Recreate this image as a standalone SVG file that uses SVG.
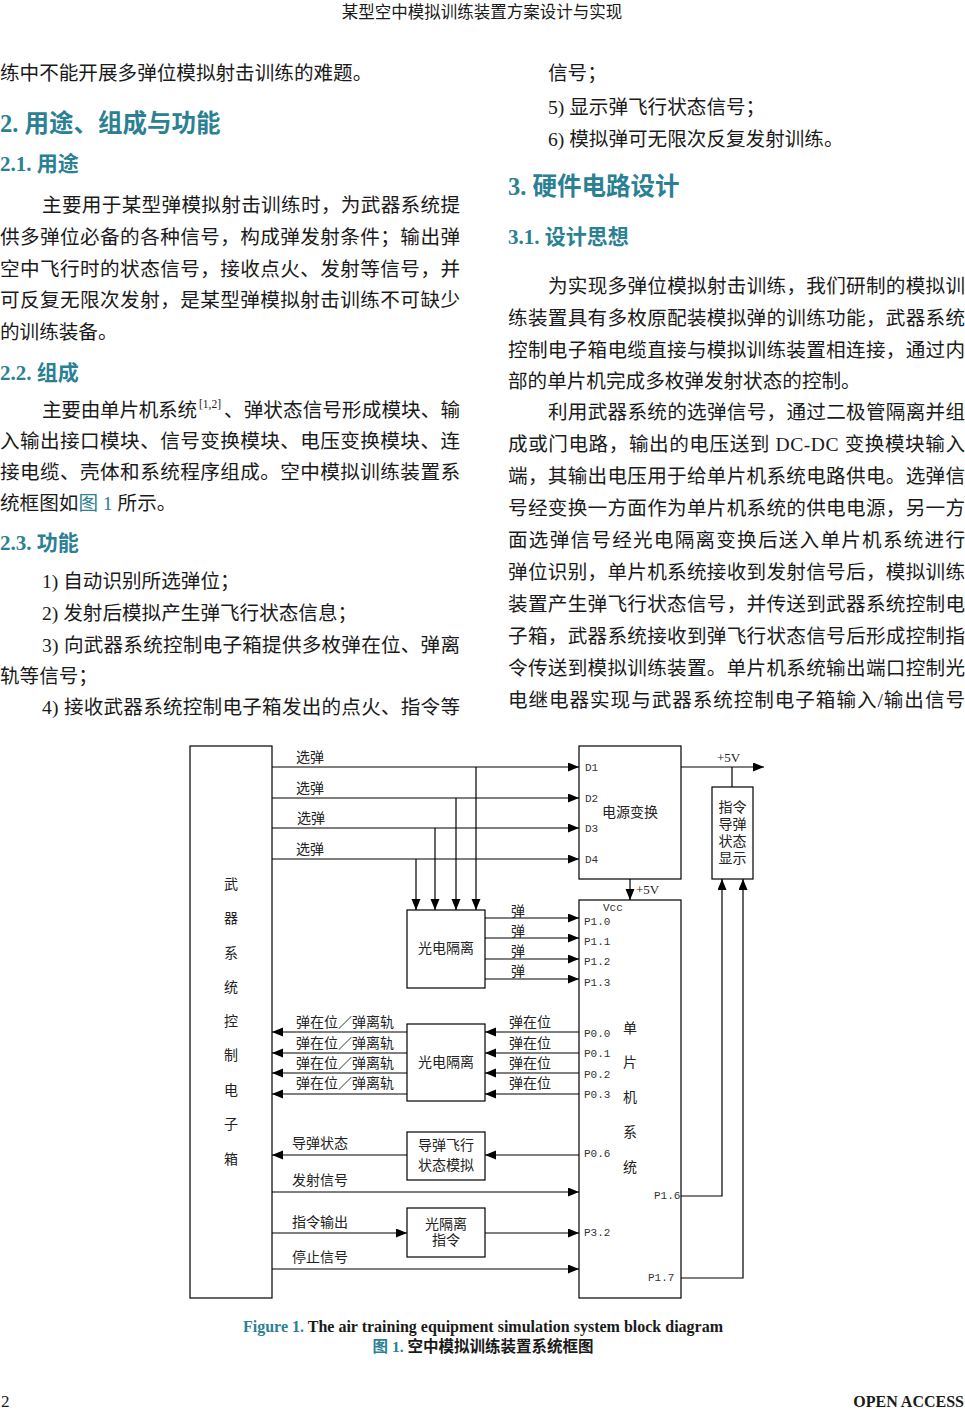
<svg xmlns="http://www.w3.org/2000/svg" width="965" height="1411" viewBox="0 0 965 1411">
<style>
.body{font-family:"Liberation Serif","Noto Sans CJK SC",serif;font-size:19.6px;fill:#1a1a1a}
.h1{font-family:"Liberation Serif","Noto Sans CJK SC",sans-serif;font-size:24.5px;font-weight:bold;fill:#2b8094}
.h2{font-family:"Liberation Serif","Noto Sans CJK SC",sans-serif;font-size:21px;font-weight:bold;fill:#2b8094}
.teal{fill:#2b8094}
.lbl{font-family:"Liberation Serif","Noto Sans CJK SC",serif;font-size:14px;fill:#222}
.port{font-family:"Liberation Mono","Noto Sans CJK SC",monospace;font-size:11px;fill:#333}
.box{fill:#fff;stroke:#000;stroke-width:1.2}
.ln{fill:none;stroke:#000;stroke-width:1.2}
.ar{marker-end:url(#arr)}
</style>
<defs>
<marker id="arr" markerUnits="userSpaceOnUse" markerWidth="12" markerHeight="10" refX="11" refY="4.5" orient="auto">
<path d="M0,0 L11,4.5 L0,9 z" fill="#000"/>
</marker>
</defs>
<rect width="965" height="1411" fill="#fff"/>

<!-- header / footer -->
<text x="482" y="18" text-anchor="middle" class="body" style="font-size:16.5px">某型空中模拟训练装置方案设计与实现</text>
<text x="1" y="1407" class="body" style="font-size:17px">2</text>
<text x="964" y="1407" text-anchor="end" class="body" style="font-size:16px;font-weight:bold">OPEN ACCESS</text>

<!-- left column -->
<g id="left-col">
<text x="0" y="80" class="body">练中不能开展多弹位模拟射击训练的难题。</text>
<text x="0" y="132" class="h1">2. 用途、组成与功能</text>
<text x="0" y="171" class="h2">2.1. 用途</text>
<text x="42" y="212" class="body" textLength="418" lengthAdjust="spacing">主要用于某型弹模拟射击训练时，为武器系统提</text>
<text x="0" y="244" class="body" textLength="460" lengthAdjust="spacing">供多弹位必备的各种信号，构成弹发射条件；输出弹</text>
<text x="0" y="276" class="body" textLength="460" lengthAdjust="spacing">空中飞行时的状态信号，接收点火、发射等信号，并</text>
<text x="0" y="307" class="body" textLength="460" lengthAdjust="spacing">可反复无限次发射，是某型弹模拟射击训练不可缺少</text>
<text x="0" y="339" class="body">的训练装备。</text>
<text x="0" y="380" class="h2">2.2. 组成</text>
<text x="42" y="417" class="body" textLength="155" lengthAdjust="spacing">主要由单片机系统</text>
<text x="199" y="408" class="body" style="font-size:11.5px">[1,2]</text>
<text x="224" y="417" class="body" textLength="236" lengthAdjust="spacing">、弹状态信号形成模块、输</text>
<text x="0" y="448" class="body" textLength="460" lengthAdjust="spacing">入输出接口模块、信号变换模块、电压变换模块、连</text>
<text x="0" y="479" class="body" textLength="460" lengthAdjust="spacing">接电缆、壳体和系统程序组成。空中模拟训练装置系</text>
<text x="0" y="510" class="body">统框图如<tspan class="teal">图 1</tspan> 所示。</text>
<text x="0" y="550" class="h2">2.3. 功能</text>
<text x="42" y="588" class="body">1)  自动识别所选弹位；</text>
<text x="42" y="620" class="body">2)  发射后模拟产生弹飞行状态信息；</text>
<text x="42" y="652" class="body" textLength="418" lengthAdjust="spacing">3)  向武器系统控制电子箱提供多枚弹在位、弹离</text>
<text x="0" y="683" class="body">轨等信号；</text>
<text x="42" y="714" class="body" textLength="418" lengthAdjust="spacing">4)  接收武器系统控制电子箱发出的点火、指令等</text>
</g>

<!-- right column -->
<g id="right-col">
<text x="548" y="80" class="body">信号；</text>
<text x="548" y="114" class="body">5)  显示弹飞行状态信号；</text>
<text x="548" y="146" class="body">6)  模拟弹可无限次反复发射训练。</text>
<text x="508" y="195" class="h1">3.  硬件电路设计</text>
<text x="508" y="244" class="h2">3.1.  设计思想</text>
<text x="548" y="293" class="body" textLength="417" lengthAdjust="spacing">为实现多弹位模拟射击训练，我们研制的模拟训</text>
<text x="508" y="325" class="body" textLength="457" lengthAdjust="spacing">练装置具有多枚原配装模拟弹的训练功能，武器系统</text>
<text x="508" y="357" class="body" textLength="457" lengthAdjust="spacing">控制电子箱电缆直接与模拟训练装置相连接，通过内</text>
<text x="508" y="388" class="body">部的单片机完成多枚弹发射状态的控制。</text>
<text x="548" y="419" class="body" textLength="417" lengthAdjust="spacing">利用武器系统的选弹信号，通过二极管隔离并组</text>
<text x="508" y="451" class="body" textLength="457" lengthAdjust="spacing">成或门电路，输出的电压送到 DC-DC 变换模块输入</text>
<text x="508" y="483" class="body" textLength="457" lengthAdjust="spacing">端，其输出电压用于给单片机系统电路供电。选弹信</text>
<text x="508" y="515" class="body" textLength="457" lengthAdjust="spacing">号经变换一方面作为单片机系统的供电电源，另一方</text>
<text x="508" y="547" class="body" textLength="457" lengthAdjust="spacing">面选弹信号经光电隔离变换后送入单片机系统进行</text>
<text x="508" y="579" class="body" textLength="457" lengthAdjust="spacing">弹位识别，单片机系统接收到发射信号后，模拟训练</text>
<text x="508" y="611" class="body" textLength="457" lengthAdjust="spacing">装置产生弹飞行状态信号，并传送到武器系统控制电</text>
<text x="508" y="643" class="body" textLength="457" lengthAdjust="spacing">子箱，武器系统接收到弹飞行状态信号后形成控制指</text>
<text x="508" y="675" class="body" textLength="457" lengthAdjust="spacing">令传送到模拟训练装置。单片机系统输出端口控制光</text>
<text x="508" y="707" class="body" textLength="457" lengthAdjust="spacing">电继电器实现与武器系统控制电子箱输入/输出信号</text>
</g>

<!-- diagram nodes -->
<g id="weapon-box">
<rect x="190" y="746" width="82" height="552" class="box"/>
<text class="lbl" text-anchor="middle" x="231" y="889">武</text>
<text class="lbl" text-anchor="middle" x="231" y="923">器</text>
<text class="lbl" text-anchor="middle" x="231" y="958">系</text>
<text class="lbl" text-anchor="middle" x="231" y="992">统</text>
<text class="lbl" text-anchor="middle" x="231" y="1026">控</text>
<text class="lbl" text-anchor="middle" x="231" y="1060">制</text>
<text class="lbl" text-anchor="middle" x="231" y="1095">电</text>
<text class="lbl" text-anchor="middle" x="231" y="1129">子</text>
<text class="lbl" text-anchor="middle" x="231" y="1164">箱</text>
</g>
<g id="power-box">
<rect x="579" y="746" width="102" height="133" class="box"/>
<text class="port" x="585" y="771">D1</text>
<text class="port" x="585" y="802">D2</text>
<text class="port" x="585" y="832">D3</text>
<text class="port" x="585" y="863">D4</text>
<text class="lbl" x="602" y="817">电源变换</text>
</g>
<g id="display-box">
<rect x="712" y="787" width="41" height="92" class="box"/>
<text class="lbl" text-anchor="middle" x="732.5" y="812">指令</text>
<text class="lbl" text-anchor="middle" x="732.5" y="829">导弹</text>
<text class="lbl" text-anchor="middle" x="732.5" y="846">状态</text>
<text class="lbl" text-anchor="middle" x="732.5" y="863">显示</text>
</g>
<g id="mcu-box">
<rect x="579" y="900" width="102" height="398" class="box"/>
<text class="port" x="603" y="911">Vcc</text>
<text class="port" x="584" y="925">P1.0</text>
<text class="port" x="584" y="945">P1.1</text>
<text class="port" x="584" y="965">P1.2</text>
<text class="port" x="584" y="986">P1.3</text>
<text class="port" x="584" y="1037">P0.0</text>
<text class="port" x="584" y="1057">P0.1</text>
<text class="port" x="584" y="1078">P0.2</text>
<text class="port" x="584" y="1098">P0.3</text>
<text class="port" x="584" y="1157">P0.6</text>
<text class="port" x="584" y="1236">P3.2</text>
<text class="port" x="654" y="1199">P1.6</text>
<text class="port" x="648" y="1281">P1.7</text>
<text class="lbl" text-anchor="middle" x="630" y="1033">单</text>
<text class="lbl" text-anchor="middle" x="630" y="1067">片</text>
<text class="lbl" text-anchor="middle" x="630" y="1102">机</text>
<text class="lbl" text-anchor="middle" x="630" y="1137">系</text>
<text class="lbl" text-anchor="middle" x="630" y="1172">统</text>
</g>
<g id="opto-in">
<rect x="407" y="910" width="78" height="78" class="box"/>
<text class="lbl" text-anchor="middle" x="446" y="953">光电隔离</text>
</g>
<g id="opto-out">
<rect x="407" y="1024" width="78" height="77" class="box"/>
<text class="lbl" text-anchor="middle" x="446" y="1067">光电隔离</text>
</g>
<g id="flight-sim">
<rect x="407" y="1132" width="78" height="48" class="box"/>
<text class="lbl" text-anchor="middle" x="446" y="1150">导弹飞行</text>
<text class="lbl" text-anchor="middle" x="446" y="1170">状态模拟</text>
</g>
<g id="opto-cmd">
<rect x="407" y="1208" width="78" height="49" class="box"/>
<text class="lbl" text-anchor="middle" x="446" y="1229">光隔离</text>
<text class="lbl" text-anchor="middle" x="446" y="1245">指令</text>
</g>

<!-- connectors -->
<g id="connectors">
<path class="ln ar" d="M272,767 H579"/>
<path class="ln ar" d="M272,798 H579"/>
<path class="ln ar" d="M272,828 H579"/>
<path class="ln ar" d="M272,859 H579"/>
<path class="ln ar" d="M476,767 V910"/>
<path class="ln ar" d="M456,798 V910"/>
<path class="ln ar" d="M435,828 V910"/>
<path class="ln ar" d="M416,859 V910"/>
<path class="ln ar" d="M681,767 H764"/>
<path class="ln" d="M732,767 V787"/>
<path class="ln ar" d="M630,879 V900"/>
<path class="ln ar" d="M485,918 H579"/>
<path class="ln ar" d="M485,938 H579"/>
<path class="ln ar" d="M485,959 H579"/>
<path class="ln ar" d="M485,979 H579"/>
<path class="ln ar" d="M579,1032 H485"/>
<path class="ln ar" d="M579,1053 H485"/>
<path class="ln ar" d="M579,1073 H485"/>
<path class="ln ar" d="M579,1094 H485"/>
<path class="ln ar" d="M407,1032 H272"/>
<path class="ln ar" d="M407,1053 H272"/>
<path class="ln ar" d="M407,1073 H272"/>
<path class="ln ar" d="M407,1094 H272"/>
<path class="ln ar" d="M579,1155 H485"/>
<path class="ln ar" d="M407,1155 H272"/>
<path class="ln ar" d="M272,1192 H579"/>
<path class="ln ar" d="M272,1233 H407"/>
<path class="ln ar" d="M485,1233 H579"/>
<path class="ln ar" d="M272,1269 H579"/>
<path class="ln ar" d="M681,1196 H722 V879"/>
<path class="ln ar" d="M681,1278 H743 V879"/>
</g>

<!-- connector labels -->
<g id="conn-labels">
<text class="lbl" x="296" y="762">选弹</text>
<text class="lbl" x="296" y="793">选弹</text>
<text class="lbl" x="297" y="823">选弹</text>
<text class="lbl" x="296" y="854">选弹</text>
<text class="lbl" x="717" y="762" style="font-size:13px">+5V</text>
<text class="lbl" x="636" y="894" style="font-size:13px">+5V</text>
<text class="lbl" x="511" y="916">弹</text>
<text class="lbl" x="511" y="936">弹</text>
<text class="lbl" x="511" y="956">弹</text>
<text class="lbl" x="511" y="976">弹</text>
<text class="lbl" x="509" y="1027">弹在位</text>
<text class="lbl" x="509" y="1048">弹在位</text>
<text class="lbl" x="509" y="1068">弹在位</text>
<text class="lbl" x="509" y="1088">弹在位</text>
<text class="lbl" x="296" y="1027">弹在位／弹离轨</text>
<text class="lbl" x="296" y="1048">弹在位／弹离轨</text>
<text class="lbl" x="296" y="1068">弹在位／弹离轨</text>
<text class="lbl" x="296" y="1088">弹在位／弹离轨</text>
<text class="lbl" x="292" y="1148">导弹状态</text>
<text class="lbl" x="292" y="1185">发射信号</text>
<text class="lbl" x="292" y="1227">指令输出</text>
<text class="lbl" x="292" y="1262">停止信号</text>
</g>

<!-- caption -->
<text x="483" y="1332" text-anchor="middle" class="body" style="font-size:16px;font-weight:bold"><tspan class="teal">Figure 1.</tspan> The air training equipment simulation system block diagram</text>
<text x="483" y="1352" text-anchor="middle" class="body" style="font-size:15.5px;font-weight:bold"><tspan class="teal">图 1.</tspan>  空中模拟训练装置系统框图</text>
</svg>
